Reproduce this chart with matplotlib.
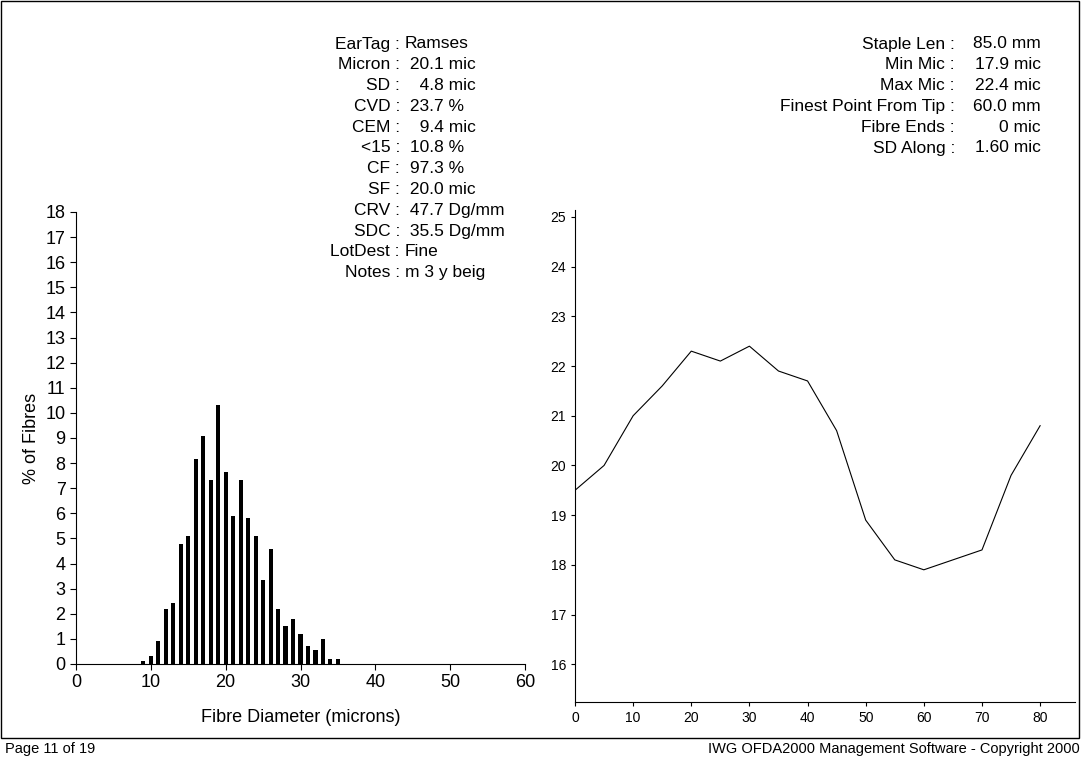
import matplotlib.pyplot as plt
import numpy as np

plt.rcParams['font.family'] = ['Liberation Sans', 'DejaVu Sans']

diam = np.arange(9, 36)
pct = [0.1, 0.33, 0.93, 2.2, 2.44, 4.77, 5.1, 8.15, 9.06, 7.33, 10.3, 7.63, 5.9, 7.33,
       5.8, 5.1, 3.35, 4.56, 2.2, 1.5, 1.8, 1.2, 0.7, 0.57, 1.0, 0.2, 0.2]

pos = np.arange(0, 85, 5)
mic = [19.5, 20.0, 21.0, 21.6, 22.3, 22.1, 22.4, 21.9, 21.7, 20.7, 18.9, 18.1, 17.9, 18.1, 18.3, 19.8, 20.8]

left_labels = ['EarTag', 'Micron', 'SD', 'CVD', 'CEM', '<15', 'CF', 'SF', 'CRV', 'SDC', 'LotDest', 'Notes']
left_values = ['Ramses', ' 20.1 mic', '   4.8 mic', ' 23.7 %', '   9.4 mic', ' 10.8 %', ' 97.3 %',
               ' 20.0 mic', ' 47.7 Dg/mm', ' 35.5 Dg/mm', 'Fine', 'm 3 y beig']
right_labels = ['Staple Len', 'Min Mic', 'Max Mic', 'Finest Point From Tip', 'Fibre Ends', 'SD Along']
right_values = ['85.0 mm', '17.9 mic', '22.4 mic', '60.0 mm', '0 mic', '1.60 mic']

W, H = 1088, 767
fig = plt.figure(figsize=(W / 100, H / 100), dpi=100)
fig.patches.append(plt.Rectangle((1 / W, 1 - 738 / H), 1078 / W, 737 / H, transform=fig.transFigure,
                                 fill=False, edgecolor='black', lw=1))

fs = 12.5
for i, (l, v) in enumerate(zip(left_labels, left_values)):
    y = 1 - (44 + i * 20.8) / H
    fig.text(400 / W, y, l + ' :', ha='right', va='center', fontsize=fs)
    fig.text(405 / W, y, v, ha='left', va='center', fontsize=fs)
for i, (l, v) in enumerate(zip(right_labels, right_values)):
    y = 1 - (44 + i * 20.8) / H
    fig.text(955 / W, y, l + ' :', ha='right', va='center', fontsize=fs)
    fig.text(1041 / W, y, v, ha='right', va='center', fontsize=fs)

ax1 = fig.add_axes([76 / W, 1 - 664 / H, 449 / W, 452 / H])
ax1.bar(diam, pct, width=0.55, color='black')
ax1.set_xlim(0, 60)
ax1.set_ylim(0, 18)
ax1.set_yticks(range(19))
ax1.set_xticks(range(0, 61, 10))
ax1.spines[['top', 'right']].set_visible(False)
ax1.tick_params(labelsize=13, direction='out', length=4)
ax1.set_xlabel('Fibre Diameter (microns)', fontsize=13, labelpad=13)
ax1.set_ylabel('% of Fibres', fontsize=13, labelpad=4)

ax2 = fig.add_axes([575 / W, 1 - 702 / H, 500 / W, 492 / H])
ax2.plot(pos, mic, color='black', lw=0.8)
ax2.set_xlim(0, 86)
ax2.set_ylim(15.24, 25.14)
ax2.set_yticks(range(16, 26))
ax2.set_xticks(range(0, 81, 10))
ax2.spines[['top', 'right']].set_visible(False)
ax2.tick_params(labelsize=10, direction='out', length=3)

fig.text(5 / W, 1 - 749 / H, 'Page 11 of 19', ha='left', va='center', fontsize=10.5)
fig.text(1080 / W, 1 - 749 / H, 'IWG OFDA2000 Management Software - Copyright 2000', ha='right', va='center', fontsize=10.5)

fig.savefig('out.png', dpi=100)
